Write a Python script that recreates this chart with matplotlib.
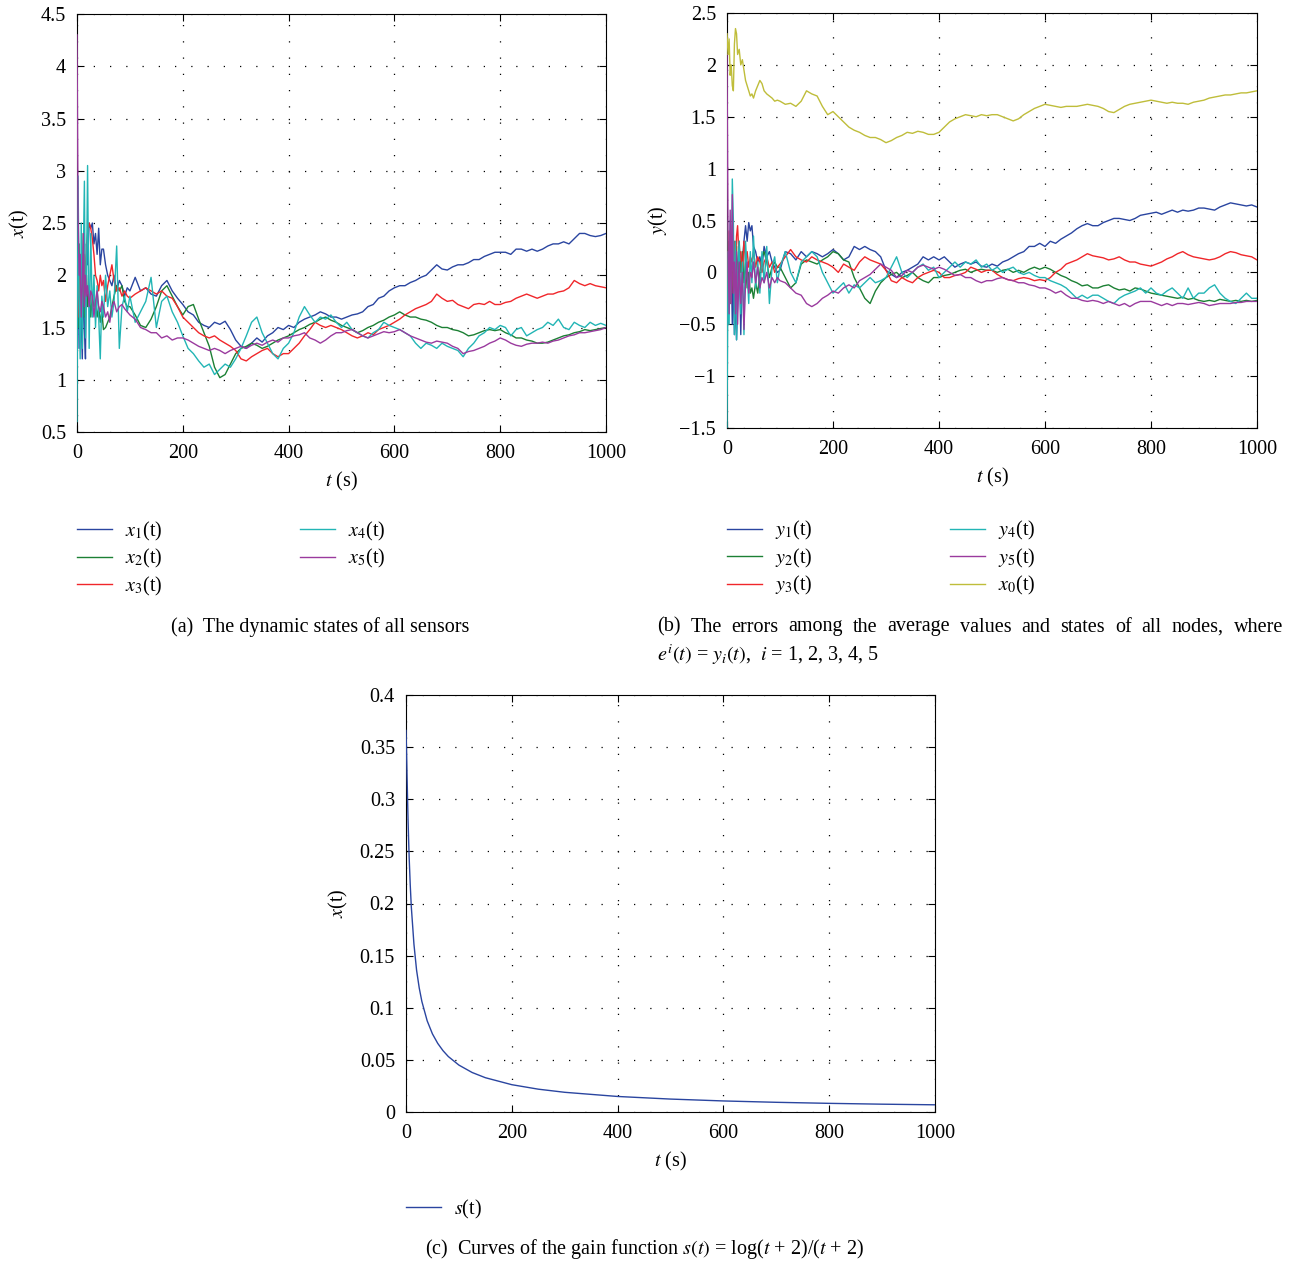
import matplotlib
matplotlib.use("Agg")
import matplotlib.pyplot as plt
from matplotlib.ticker import FuncFormatter, MultipleLocator

plt.rcParams['font.family'] = ['Liberation Serif', 'DejaVu Serif']
plt.rcParams['mathtext.fontset'] = 'stix'

# ---------------- data ----------------
t_early = [0, 2, 4, 6, 8, 10, 12, 14, 16, 18, 20, 23, 26, 29, 32, 35, 38, 41, 44, 47,
           50, 54, 58, 62, 66, 70, 75, 80, 85, 90, 95]
t_late = list(range(100, 1001, 10))
t = t_early + t_late

# panel (a): states of sensors
x1 = [1.5, 2.2, 1.3, 2.0, 1.6, 1.2, 2.0, 1.5, 1.2, 2.3, 2.1, 2.5, 2.45, 2.5, 2.3, 2.4, 2.2, 2.45, 2.1, 2.25,
      2.25, 2.1, 2.0, 1.95, 1.9, 2.0, 1.85, 1.95, 1.9, 1.8, 1.88,
      1.85, 1.98, 1.85, 1.88, 1.82, 1.80, 1.90, 1.95, 1.85, 1.78,
      1.72, 1.65, 1.62, 1.55, 1.52, 1.50, 1.55, 1.53, 1.56, 1.48,
      1.38, 1.32, 1.30, 1.35, 1.40, 1.36, 1.42, 1.45, 1.50, 1.48,
      1.52, 1.50, 1.55, 1.58, 1.60, 1.62, 1.65, 1.63, 1.60, 1.60,
      1.58, 1.60, 1.62, 1.63, 1.65, 1.70, 1.72, 1.78, 1.80, 1.85,
      1.88, 1.90, 1.90, 1.93, 1.95, 1.98, 2.00, 2.05, 2.10, 2.06,
      2.05, 2.08, 2.10, 2.10, 2.12, 2.15, 2.15, 2.18, 2.20, 2.22,
      2.22, 2.22, 2.20, 2.25, 2.25, 2.23, 2.25, 2.23, 2.25, 2.28,
      2.30, 2.30, 2.32, 2.30, 2.35, 2.40, 2.40, 2.38, 2.37, 2.38,
      2.40]
x2 = [2.0, 1.5, 2.3, 1.6, 2.2, 1.7, 2.4, 1.6, 1.9, 2.0, 1.7, 1.9, 1.6, 1.8, 1.7, 1.75, 1.6, 1.7, 1.55, 1.65,
      1.48, 1.5, 1.55, 1.6, 1.7, 1.8, 1.9, 1.85, 1.9, 1.75, 1.7,
      1.70, 1.62, 1.52, 1.50, 1.58, 1.70, 1.85, 1.90, 1.80, 1.70,
      1.62, 1.70, 1.72, 1.58, 1.45, 1.32, 1.12, 1.02, 1.05, 1.15,
      1.25, 1.30, 1.32, 1.35, 1.33, 1.30, 1.32, 1.35, 1.38, 1.40,
      1.42, 1.45, 1.48, 1.50, 1.53, 1.55, 1.58, 1.60, 1.57, 1.55,
      1.52, 1.50, 1.48, 1.45, 1.47, 1.50, 1.52, 1.55, 1.57, 1.60,
      1.62, 1.65, 1.62, 1.60, 1.60, 1.58, 1.57, 1.55, 1.52, 1.50,
      1.50, 1.48, 1.47, 1.45, 1.42, 1.43, 1.45, 1.47, 1.48, 1.47,
      1.48, 1.45, 1.43, 1.40, 1.40, 1.38, 1.37, 1.35, 1.35, 1.36,
      1.38, 1.40, 1.42, 1.43, 1.45, 1.46, 1.48, 1.47, 1.48, 1.49,
      1.50]
x3 = [1.8, 1.6, 2.0, 1.8, 2.1, 1.7, 2.0, 2.2, 1.9, 2.3, 2.4, 2.5, 2.45, 2.35, 2.2, 2.0, 1.95, 1.85, 2.0, 1.9,
      1.95, 1.75, 1.9, 2.0, 2.1, 1.95, 1.85, 1.88, 1.8, 1.85, 1.8,
      1.78, 1.82, 1.85, 1.88, 1.85, 1.82, 1.85, 1.80, 1.78, 1.70,
      1.60, 1.55, 1.50, 1.45, 1.42, 1.40, 1.42, 1.38, 1.35, 1.32,
      1.28, 1.20, 1.18, 1.22, 1.25, 1.28, 1.30, 1.25, 1.22, 1.25,
      1.25, 1.30, 1.35, 1.42, 1.48, 1.55, 1.52, 1.50, 1.52, 1.50,
      1.48, 1.45, 1.42, 1.40, 1.42, 1.45, 1.43, 1.48, 1.50, 1.52,
      1.55, 1.58, 1.62, 1.65, 1.68, 1.70, 1.72, 1.75, 1.82, 1.78,
      1.75, 1.76, 1.72, 1.70, 1.68, 1.72, 1.73, 1.72, 1.75, 1.72,
      1.72, 1.74, 1.75, 1.78, 1.80, 1.82, 1.80, 1.78, 1.80, 1.82,
      1.82, 1.84, 1.85, 1.88, 1.95, 1.92, 1.90, 1.92, 1.90, 1.89,
      1.88]
x4 = [0.6, 2.95, 1.8, 1.2, 2.5, 1.3, 2.2, 2.9, 1.4, 2.0, 3.05, 1.3, 2.4, 1.6, 2.0, 1.5, 1.9, 1.6, 1.2, 1.8,
      1.6, 2.0, 1.7, 1.85, 1.6, 1.75, 2.28, 1.3, 1.7, 1.8, 1.65,
      1.80, 1.55, 1.65, 1.75, 1.98, 1.50, 1.75, 1.80, 1.65, 1.55,
      1.42, 1.30, 1.25, 1.18, 1.12, 1.15, 1.05, 1.10, 1.15, 1.12,
      1.20, 1.30, 1.42, 1.55, 1.60, 1.45, 1.35, 1.25, 1.20, 1.30,
      1.35, 1.45, 1.60, 1.70, 1.62, 1.55, 1.60, 1.58, 1.62, 1.55,
      1.50, 1.55, 1.48, 1.45, 1.42, 1.40, 1.45, 1.48, 1.55, 1.52,
      1.50, 1.48, 1.45, 1.42, 1.35, 1.30, 1.35, 1.33, 1.30, 1.35,
      1.32, 1.30, 1.28, 1.22, 1.30, 1.35, 1.42, 1.45, 1.50, 1.48,
      1.52, 1.50, 1.42, 1.48, 1.50, 1.42, 1.45, 1.48, 1.50, 1.55,
      1.52, 1.58, 1.50, 1.48, 1.55, 1.52, 1.50, 1.55, 1.52, 1.54,
      1.52]
x5 = [4.3, 2.6, 2.0, 2.2, 1.6, 1.9, 2.4, 1.7, 2.0, 1.8, 1.9, 1.7, 1.85, 1.8, 1.6, 1.75, 1.85, 1.7, 1.65, 1.75,
      1.7, 1.6, 1.65, 1.55, 1.7, 1.75, 1.65, 1.7, 1.72, 1.68, 1.65,
      1.62, 1.58, 1.50, 1.48, 1.45, 1.45, 1.40, 1.42, 1.38, 1.40,
      1.40, 1.38, 1.35, 1.32, 1.30, 1.28, 1.30, 1.28, 1.25, 1.28,
      1.30, 1.32, 1.30, 1.33, 1.35, 1.33, 1.36, 1.38, 1.36, 1.40,
      1.40, 1.42, 1.43, 1.45, 1.40, 1.38, 1.35, 1.38, 1.42, 1.45,
      1.45, 1.47, 1.48, 1.45, 1.42, 1.40, 1.42, 1.44, 1.46, 1.45,
      1.46, 1.48, 1.45, 1.42, 1.40, 1.38, 1.36, 1.35, 1.37, 1.36,
      1.35, 1.32, 1.30, 1.25, 1.27, 1.28, 1.30, 1.32, 1.35, 1.37,
      1.40, 1.38, 1.35, 1.33, 1.32, 1.34, 1.35, 1.35, 1.36, 1.35,
      1.37, 1.38, 1.40, 1.42, 1.43, 1.45, 1.45, 1.46, 1.47, 1.48,
      1.50]

# panel (b): errors
y1 = [0.3, -0.5, 0.3, -0.3, 0.1, -0.5, 0.0, -0.6, -0.2, -0.65, -0.3, 0.2, -0.6, 0.1, 0.3, 0.45, 0.3, 0.48, 0.4, 0.45,
      0.25, 0.2, 0.1, 0.15, 0.05, 0.25, 0.15, 0.2, 0.1, 0.05, 0.0,
      0.02, 0.20, 0.18, 0.12, 0.20, 0.15, 0.20, 0.18, 0.15, 0.18,
      0.22, 0.18, 0.12, 0.15, 0.25, 0.22, 0.25, 0.22, 0.20, 0.15,
      0.02, -0.02, -0.05, 0.00, 0.02, 0.05, 0.08, 0.15, 0.12, 0.15,
      0.12, 0.15, 0.10, 0.05, 0.08, 0.10, 0.08, 0.10, 0.06, 0.05,
      0.08, 0.06, 0.10, 0.12, 0.15, 0.18, 0.20, 0.25, 0.25, 0.28,
      0.25, 0.30, 0.28, 0.32, 0.35, 0.38, 0.42, 0.45, 0.47, 0.45,
      0.45, 0.48, 0.50, 0.52, 0.52, 0.51, 0.50, 0.52, 0.55, 0.56,
      0.57, 0.58, 0.56, 0.58, 0.60, 0.58, 0.60, 0.59, 0.60, 0.62,
      0.62, 0.61, 0.60, 0.63, 0.65, 0.67, 0.66, 0.65, 0.64, 0.65,
      0.63]
y2 = [0.5, -0.3, 0.3, -0.2, 0.1, 0.3, -0.2, 0.2, 0.0, 0.25, -0.1, 0.3, 0.0, 0.2, -0.1, 0.1, -0.15, 0.0, -0.2, -0.15,
      -0.25, -0.1, -0.2, 0.0, 0.15, 0.2, 0.1, -0.05, 0.05, 0.1, 0.05,
      0.05, -0.05, -0.15, -0.10, 0.08, 0.12, 0.10, 0.08, 0.12, 0.15,
      0.20, 0.18, 0.12, 0.10, -0.05, -0.15, -0.25, -0.30, -0.18, -0.10,
      -0.05, -0.02, 0.00, -0.05, -0.03, 0.00, -0.05, -0.08, -0.10, -0.05,
      -0.05, -0.03, -0.02, 0.00, 0.02, 0.03, 0.00, 0.02, 0.03, 0.02,
      0.02, 0.00, 0.02, 0.03, 0.00, 0.02, 0.00, 0.03, 0.05, 0.03,
      0.05, 0.03, 0.00, -0.03, -0.05, -0.08, -0.10, -0.13, -0.12, -0.15,
      -0.15, -0.13, -0.12, -0.15, -0.17, -0.16, -0.18, -0.15, -0.16, -0.18,
      -0.20, -0.21, -0.22, -0.23, -0.24, -0.25, -0.24, -0.26, -0.25, -0.27,
      -0.28, -0.27, -0.28, -0.26, -0.27, -0.28, -0.27, -0.28, -0.27, -0.28,
      -0.27]
y3 = [0.2, -0.5, 0.4, -0.3, 0.2, 0.45, -0.2, 0.3, 0.0, 0.35, 0.45, 0.1, 0.2, 0.0, 0.3, 0.1, 0.2, 0.05, 0.15, 0.1,
      0.2, 0.05, 0.15, 0.1, 0.0, 0.1, 0.15, 0.05, 0.1, 0.0, 0.05,
      0.08, 0.15, 0.22, 0.15, 0.12, 0.10, 0.15, 0.12, 0.10, 0.08,
      0.05, 0.00, 0.08, 0.05, 0.02, 0.10, 0.15, 0.12, 0.10, 0.08,
      0.02, -0.08, -0.10, -0.05, -0.08, -0.10, -0.05, -0.02, 0.00, 0.02,
      0.00, -0.05, -0.05, -0.03, -0.02, 0.00, 0.05, 0.03, 0.00, 0.02,
      0.02, -0.02, -0.05, -0.07, -0.08, -0.06, -0.05, -0.06, -0.08, -0.07,
      -0.08, -0.05, 0.00, 0.03, 0.08, 0.10, 0.12, 0.15, 0.18, 0.16,
      0.15, 0.14, 0.12, 0.13, 0.15, 0.12, 0.10, 0.10, 0.08, 0.07,
      0.06, 0.08, 0.10, 0.13, 0.15, 0.18, 0.20, 0.17, 0.15, 0.14,
      0.13, 0.12, 0.13, 0.15, 0.18, 0.20, 0.19, 0.17, 0.16, 0.15,
      0.12]
y4 = [-1.5, 0.2, -0.5, 0.5, -0.3, 0.9, 0.5, -0.6, 0.3, -0.65, 0.0, 0.3, -0.4, 0.1, -0.6, 0.3, 0.0, -0.3, 0.2, -0.1,
      0.35, -0.15, 0.1, -0.2, 0.2, -0.1, 0.25, -0.3, 0.05, 0.15, -0.1,
      0.05, 0.20, 0.00, -0.10, 0.10, 0.15, 0.20, 0.15, 0.00, -0.10,
      -0.20, -0.15, -0.10, -0.20, -0.12, -0.15, -0.10, -0.05, -0.10, -0.08,
      -0.05, 0.05, 0.15, 0.00, -0.05, 0.00, 0.05, 0.08, 0.02, 0.05,
      -0.05, 0.00, 0.05, 0.10, 0.05, 0.10, 0.08, 0.12, 0.05, 0.08,
      0.02, 0.05, 0.00, 0.03, 0.05, 0.00, -0.02, 0.00, -0.03, -0.05,
      -0.05, -0.08, -0.10, -0.12, -0.15, -0.20, -0.25, -0.22, -0.25, -0.22,
      -0.22, -0.25, -0.28, -0.30, -0.25, -0.22, -0.20, -0.18, -0.15, -0.20,
      -0.15, -0.20, -0.22, -0.18, -0.15, -0.20, -0.25, -0.15, -0.25, -0.20,
      -0.20, -0.15, -0.12, -0.20, -0.25, -0.28, -0.30, -0.25, -0.20, -0.25,
      -0.25]
y5 = [2.1, 0.3, -0.4, 0.6, -0.3, 0.75, -0.2, 0.1, -0.4, 0.2, -0.5, 0.1, -0.3, 0.0, -0.55, -0.1, 0.1, -0.2, 0.0, -0.05,
      0.1, -0.1, 0.05, -0.15, -0.05, -0.1, 0.0, -0.15, -0.05, -0.1, -0.05,
      -0.08, -0.10, -0.15, -0.20, -0.22, -0.30, -0.33, -0.30, -0.25, -0.22,
      -0.18, -0.20, -0.15, -0.12, -0.15, -0.08, -0.05, -0.02, 0.03, 0.08,
      0.05, 0.02, -0.05, -0.03, 0.02, 0.00, 0.05, 0.07, 0.05, 0.03,
      0.05, 0.03, 0.00, -0.03, -0.02, -0.05, -0.05, -0.08, -0.10, -0.08,
      -0.08, -0.06, -0.05, -0.07, -0.08, -0.10, -0.10, -0.12, -0.13, -0.15,
      -0.15, -0.17, -0.20, -0.18, -0.22, -0.25, -0.25, -0.27, -0.28, -0.27,
      -0.28, -0.30, -0.28, -0.30, -0.32, -0.30, -0.33, -0.30, -0.28, -0.28,
      -0.28, -0.30, -0.32, -0.30, -0.32, -0.30, -0.30, -0.31, -0.30, -0.29,
      -0.30, -0.32, -0.31, -0.30, -0.30, -0.30, -0.29, -0.29, -0.28, -0.28,
      -0.28]
x0 = [2.3, 2.1, 2.25, 1.9, 2.0, 1.8, 1.75, 2.2, 2.35, 2.3, 2.1, 2.15, 2.0, 2.05, 1.95, 1.85, 1.8, 1.75, 1.7, 1.72,
      1.68, 1.75, 1.8, 1.85, 1.82, 1.75, 1.72, 1.7, 1.68, 1.65, 1.66,
      1.65, 1.62, 1.63, 1.60, 1.65, 1.75, 1.72, 1.70, 1.60, 1.52,
      1.55, 1.50, 1.45, 1.40, 1.37, 1.35, 1.32, 1.30, 1.30, 1.28,
      1.25, 1.27, 1.30, 1.32, 1.35, 1.34, 1.36, 1.35, 1.33, 1.33,
      1.35, 1.40, 1.45, 1.48, 1.50, 1.52, 1.51, 1.50, 1.52, 1.51,
      1.52, 1.52, 1.50, 1.48, 1.46, 1.48, 1.52, 1.55, 1.58, 1.60,
      1.62, 1.61, 1.60, 1.59, 1.60, 1.60, 1.60, 1.61, 1.62, 1.61,
      1.60, 1.58, 1.55, 1.54, 1.57, 1.60, 1.62, 1.63, 1.64, 1.65,
      1.66, 1.65, 1.64, 1.63, 1.64, 1.63, 1.63, 1.62, 1.64, 1.65,
      1.66, 1.68, 1.69, 1.70, 1.71, 1.71, 1.72, 1.73, 1.73, 1.74,
      1.75]

# panel (c): gain function
t_s = [0, 1, 2, 3, 4, 5, 6, 8, 10, 15, 20, 25, 30, 40, 50, 60, 70, 80, 100, 125, 150,
       200, 250, 300, 400, 500, 600, 700, 800, 900, 1000]
s_vals = [0.366, 0.347, 0.322, 0.299, 0.278, 0.260, 0.244, 0.218, 0.197, 0.161, 0.136, 0.119,
          0.106, 0.0875, 0.0749, 0.0658, 0.0588, 0.0532, 0.0450, 0.0379, 0.0329,
          0.0262, 0.0219, 0.0189, 0.0149, 0.0124, 0.0106, 0.0093, 0.0083, 0.0075, 0.0069]

labels_a = [r'$x_1$(t)', r'$x_2$(t)', r'$x_3$(t)', r'$x_4$(t)', r'$x_5$(t)']
labels_b = [r'$y_1$(t)', r'$y_2$(t)', r'$y_3$(t)', r'$y_4$(t)', r'$y_5$(t)', r'$x_0$(t)']

colors = ['#2a45a0', '#1c8034', '#f0262a', '#22b5b5', '#9a3a9e', '#bfbd3a']

FS = 14.5
W, H = 1295, 1263
fig = plt.figure(figsize=(W / 100, H / 100), dpi=100)


def ax_at(l, r, top, bot):
    return fig.add_axes([l / W, 1 - bot / H, (r - l) / W, (bot - top) / H])


fmt = FuncFormatter(lambda v, p: ('%g' % v).replace('-', '\u2212'))


def style(ax, ylim, ystep):
    ax.set_xlim(0, 1000)
    ax.set_ylim(*ylim)
    ax.xaxis.set_major_locator(MultipleLocator(200))
    ax.yaxis.set_major_locator(MultipleLocator(ystep))
    ax.yaxis.set_major_formatter(fmt)
    ax.xaxis.set_major_formatter(fmt)
    ax.tick_params(direction='in', top=True, right=True, length=5, width=0.8,
                   labelsize=FS)
    ax.tick_params(axis='x', pad=9)
    ax.tick_params(axis='y', pad=8)
    ax.grid(True, color='black', linestyle=(0, (1, 12)), linewidth=0.9)
    for sp in ax.spines.values():
        sp.set_linewidth(0.8)
    ax.set_xlabel(r'$t$ (s)', fontsize=FS, labelpad=5)


leg_kw = dict(frameon=False, fontsize=FS, handlelength=1.75, handletextpad=0.65,
              columnspacing=6.8, labelspacing=0.22, borderaxespad=0, borderpad=0)

# (a)
axa = ax_at(77, 606, 14, 432)
series_a = [x1, x2, x3, x4, x5]
for ys, c, lab in zip(series_a, colors, labels_a):
    axa.plot(t, ys, color=c, lw=1.0, label=lab, zorder=3)
style(axa, (0.5, 4.5), 0.5)
axa.set_ylabel(r'$x$(t)', fontsize=FS, labelpad=7)
axa.legend(loc='upper left', bbox_to_anchor=(0.0, -0.21), ncol=2, **leg_kw)

# (b)
axb = ax_at(727, 1257, 13, 428)
series_b = [y1, y2, y3, y4, y5, x0]
for ys, c, lab in zip(series_b, colors, labels_b):
    axb.plot(t, ys, color=c, lw=1.0, label=lab, zorder=3)
style(axb, (-1.5, 2.5), 0.5)
axb.set_ylabel(r'$y$(t)', fontsize=FS, labelpad=7)
axb.legend(loc='upper left', bbox_to_anchor=(0.0, -0.22), ncol=2, **leg_kw)

# (c)
axc = ax_at(406, 935, 695, 1112)
axc.plot(t_s, s_vals, color=colors[0], lw=1.0, label=r'$s$(t)', zorder=3)
style(axc, (0, 0.4), 0.05)
axc.set_ylabel(r'$x$(t)', fontsize=FS, labelpad=7)
axc.legend(loc='upper left', bbox_to_anchor=(0.0, -0.205), ncol=1, **leg_kw)

# captions
fig.text(320 / W, 1 - 627 / H, '(a)  The dynamic states of all sensors', fontsize=FS,
         ha='center', va='center')

# justified first line of caption (b)
renderer = fig.canvas.get_renderer()
words_b = ['(b)', 'The', 'errors', 'among', 'the', 'average', 'values', 'and', 'states',
           'of', 'all', 'nodes,', 'where']
x_left, x_right, y_line = 657, 1283, 627
objs = [fig.text(0, 1 - y_line / H, w, fontsize=FS, ha='left', va='center') for w in words_b]
widths = [o.get_window_extent(renderer).width for o in objs]
gap = (x_right - x_left - sum(widths)) / (len(words_b) - 1)
xpos = x_left
for o, wd in zip(objs, widths):
    o.set_x(xpos / W)
    xpos += wd + gap

fig.text(657 / W, 1 - 655 / H, r'$e^i(t)$ = $y_i(t)$,  $i$ = 1, 2, 3, 4, 5', fontsize=FS,
         ha='left', va='center')
fig.text(645 / W, 1 - 1249 / H,
         r'(c)  Curves of the gain function $s(t)$ = log($t$ + 2)/($t$ + 2)', fontsize=FS,
         ha='center', va='center')

fig.savefig('out.png', dpi=100)
